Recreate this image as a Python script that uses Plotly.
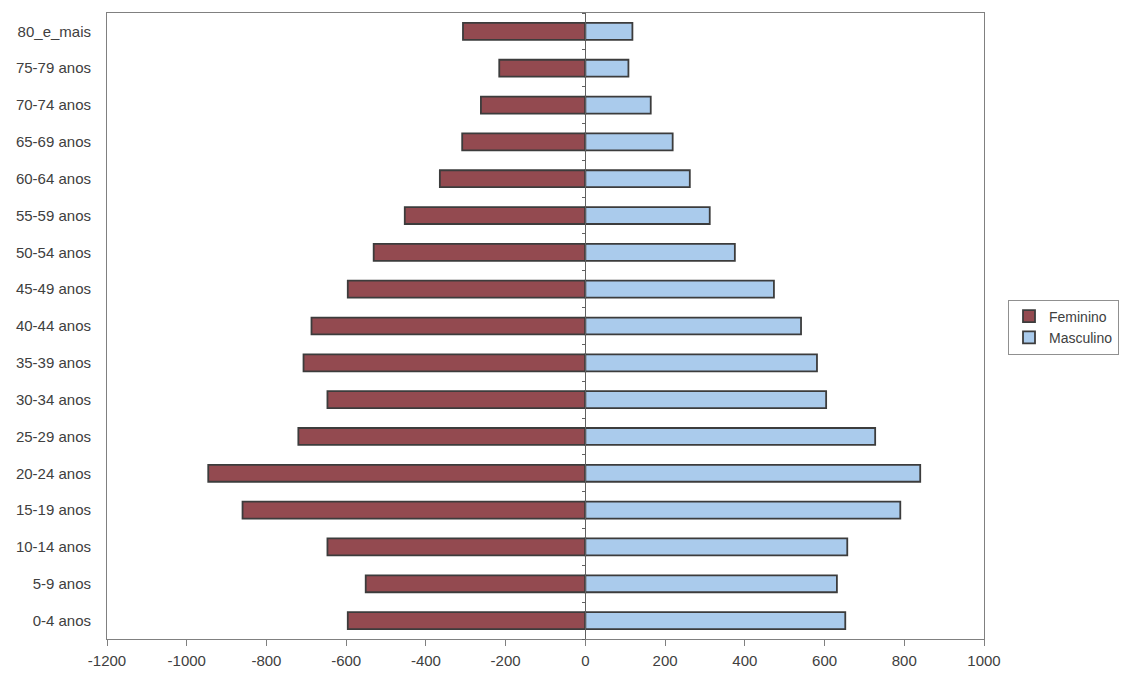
import plotly.graph_objects as go

categories = ["0-4 anos", "5-9 anos", "10-14 anos", "15-19 anos", "20-24 anos",
              "25-29 anos", "30-34 anos", "35-39 anos", "40-44 anos", "45-49 anos",
              "50-54 anos", "55-59 anos", "60-64 anos", "65-69 anos", "70-74 anos",
              "75-79 anos", "80_e_mais"]
feminino = [-596, -551, -647, -860, -946, -720, -647, -707, -687, -596,
            -531, -453, -365, -309, -262, -216, -307]
masculino = [652, 631, 657, 790, 840, 727, 604, 581, 541, 473,
             375, 312, 262, 219, 164, 108, 118]
x_ticks = [-1200, -1000, -800, -600, -400, -200, 0, 200, 400, 600, 800, 1000]

font_fam = "Liberation Sans, Arial, sans-serif"
text_col = "#404040"

fig = go.Figure()
fig.add_trace(go.Bar(y=categories, x=feminino, orientation="h", name="Feminino",
                     marker=dict(color="#934a50", line=dict(color="#3c3c3c", width=1.8))))
fig.add_trace(go.Bar(y=categories, x=masculino, orientation="h", name="Masculino",
                     marker=dict(color="#aacbec", line=dict(color="#3c3c3c", width=1.8))))
# invisible trace for the central category axis
fig.add_trace(go.Scatter(y=categories, x=[0] * len(categories), yaxis="y2",
                         mode="markers", marker=dict(opacity=0), showlegend=False,
                         hoverinfo="skip"))

fig.update_layout(
    width=1126, height=674,
    margin=dict(l=107, r=142, t=13, b=35, autoexpand=False),
    paper_bgcolor="white", plot_bgcolor="white",
    barmode="relative", bargap=0.54,
    font=dict(family=font_fam, size=15, color=text_col),
    xaxis=dict(range=[-1200, 1000], tickvals=x_ticks, ticktext=[str(v) for v in x_ticks],
               showgrid=False, zeroline=False, showline=True, linecolor="#808080",
               linewidth=1, mirror=True, ticks="outside", ticklen=6, tickcolor="#808080",
               ticklabelstandoff=2, automargin=False,
               tickfont=dict(size=15, color=text_col)),
    yaxis=dict(type="category", categoryorder="array", categoryarray=categories,
               range=[-0.5, 16.5], showgrid=False, showline=True, linecolor="#808080",
               linewidth=1, mirror=True, ticks="", ticklabelstandoff=12, automargin=False,
               tickfont=dict(size=15, color=text_col)),
    yaxis2=dict(type="category", categoryorder="array", categoryarray=categories,
                range=[-0.5, 16.5], overlaying="y", anchor="free", automargin=False,
                position=(0 - (-1200)) / 2200, showline=True, linecolor="#606060",
                linewidth=1, showticklabels=False, ticks="outside", ticklen=3,
                tickson="boundaries", tickcolor="#606060", showgrid=False),
    legend=dict(xref="container", yref="container", x=1008 / 1126, y=1 - 327 / 674,
                xanchor="left", yanchor="middle",
                bordercolor="#909090", borderwidth=1, bgcolor="white",
                font=dict(size=14, color=text_col), tracegroupgap=0,
                itemwidth=30),
)

fig.write_html("out.html")
